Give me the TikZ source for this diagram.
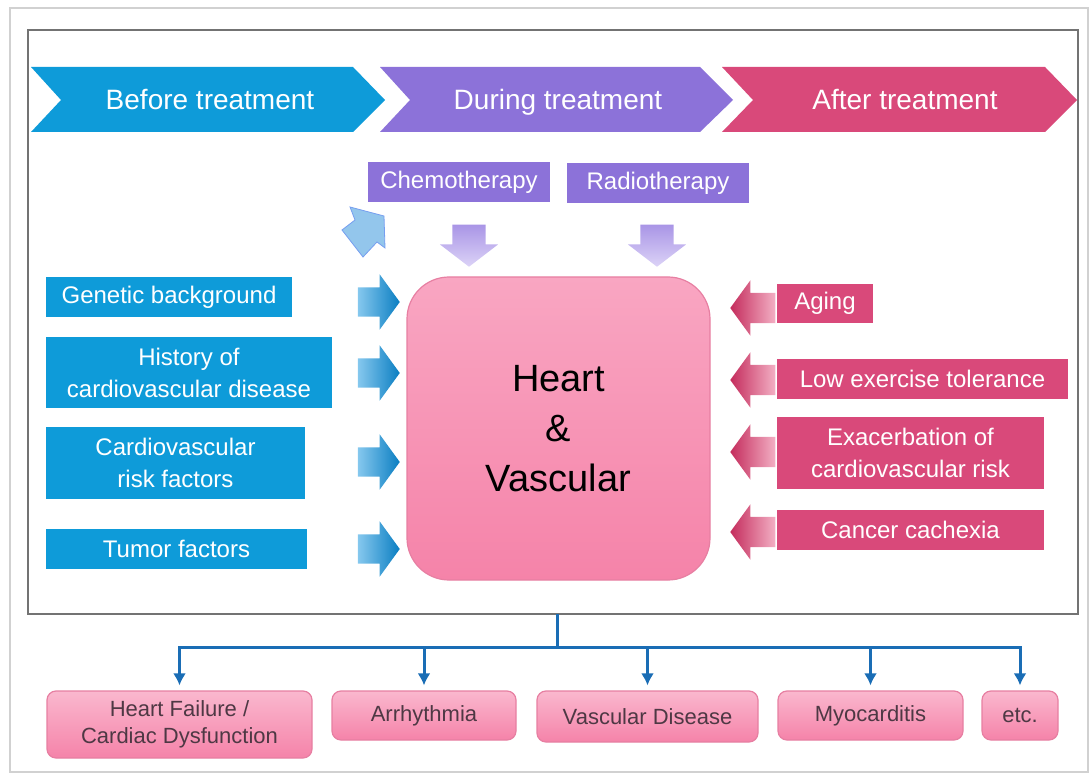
\documentclass[tikz,border=0pt]{standalone}
\usepackage{fontspec}
\setmainfont{Liberation Sans}
\usetikzlibrary{shapes.arrows,arrows.meta}

\definecolor{cblue}{HTML}{0E9BD9}
\definecolor{cpurple}{HTML}{8C72D9}
\definecolor{cpink}{HTML}{D9497A}
\definecolor{hvtop}{HTML}{F9A6C2}
\definecolor{hvbot}{HTML}{F583A9}
\definecolor{hvline}{HTML}{E77FA2}
\definecolor{lilac}{HTML}{A995E6}
\definecolor{lilaclight}{HTML}{DCD3F7}
\definecolor{arrowblue}{HTML}{0A7EC2}
\definecolor{arrowbluelight}{HTML}{86C8EE}
\definecolor{arrowpink}{HTML}{C42C5C}
\definecolor{arrowpinklight}{HTML}{F3AFC4}
\definecolor{bentblue}{HTML}{93C6EC}
\definecolor{linkblue}{HTML}{1A6DB5}
\definecolor{outtext}{HTML}{4E3844}

\newcommand{\fsz}[2]{\fontsize{#1}{#2}\selectfont}

\begin{document}
\begin{tikzpicture}[x=1pt, y=-1pt,
  phase/.style={text=white, font=\fsz{28}{32}, text height=23pt, text depth=3pt},
  factor/.style={inner sep=0, text=white, align=center, font=\fsz{24}{32}},
  leftbox/.style={factor, fill=cblue},
  rightbox/.style={factor, fill=cpink},
  therapy/.style={factor, fill=cpurple},
  outcome/.style={draw=hvline, line width=1.2pt, rounded corners=9pt, top color=hvtop!80, bottom color=hvbot,
    inner sep=0, text=outtext, align=center, font=\fsz{22}{27}},
  inarrow/.style={single arrow, anchor=tip, inner xsep=0, inner ysep=14.5pt, minimum height=42pt,
    single arrow head extend=13pt, single arrow tip angle=108, left color=arrowbluelight, right color=arrowblue},
  outarrow/.style={single arrow, anchor=tip, rotate=180, inner xsep=0, inner ysep=15pt, minimum height=45pt,
    single arrow head extend=12.5pt, single arrow tip angle=108, left color=arrowpink, right color=arrowpinklight},
  downarrow/.style={single arrow, anchor=tip, rotate=-90, inner xsep=0, inner ysep=16.5pt, minimum height=42pt,
    single arrow head extend=12.5pt, single arrow tip angle=105, top color=lilac, bottom color=lilaclight},
  link/.style={line width=3pt, linkblue}]
  \useasboundingbox (0,0) rectangle (1092,775);
  % frames
  \draw[black!18, line width=2pt] (10,8) rectangle (1088,772);
  \draw[black!55, line width=1.2pt] (28,30) rectangle (1078,614);
  % phase chevrons
  \fill[cblue] (31,67) -- (353,67) -- (385,100) -- (353,132) -- (31,132) -- (61,100) -- cycle;
  \fill[cpurple] (380,67) -- (700,67) -- (733,100) -- (700,132) -- (380,132) -- (410,100) -- cycle;
  \fill[cpink] (722,67) -- (1045,67) -- (1077,100) -- (1045,132) -- (722,132) -- (753,100) -- cycle;
  \node[phase] (before) at (210,100) {Before treatment};
  \node[phase] (during) at (558,100) {During treatment};
  \node[phase] (after) at (905,100) {After treatment};
  % treatments
  \node[therapy, minimum width=182pt, minimum height=40pt] (chemo) at (459,182) {Chemotherapy};
  \node[therapy, minimum width=182pt, minimum height=40pt] (radio) at (658,183) {Radiotherapy};
  \node[downarrow] (chemoarr) at (469,267) {};
  \node[downarrow] (radioarr) at (657,267) {};
  \filldraw[fill=bentblue, draw=bentblue!80!blue, line width=0.8pt]
    (350,207) -- (384,216) -- (385,248) -- (377,242) -- (363,257) -- (342,230) -- (355,220) -- cycle;
  % heart & vascular
  \node[draw=hvline, line width=1.2pt, rounded corners=42pt, top color=hvtop, bottom color=hvbot,
    minimum width=303pt, minimum height=303pt, align=center, font=\fsz{38}{50}] (hv) at (558.5,428.5)
    {Heart\\\&\\Vascular};
  % before treatment factors
  \node[leftbox, minimum width=246pt, minimum height=40pt] (genetic) at (169,297) {Genetic background};
  \node[leftbox, minimum width=286pt, minimum height=71pt] (history) at (189,372.5) {History of\\cardiovascular disease};
  \node[leftbox, minimum width=259pt, minimum height=72pt] (risk) at (175.5,463) {Cardiovascular\\risk factors};
  \node[leftbox, minimum width=261pt, minimum height=40pt] (tumor) at (176.5,549) {Tumor factors};
  \node[inarrow] (genarr) at (400,302) {};
  \node[inarrow] (hisarr) at (400,373) {};
  \node[inarrow] (riskarr) at (400,462) {};
  \node[inarrow] (tumarr) at (400,549) {};
  % after treatment factors
  \node[rightbox, minimum width=96pt, minimum height=39pt] (aging) at (825,303.5) {Aging};
  \node[rightbox, minimum width=291pt, minimum height=40pt] (lowex) at (922.5,379) {Low exercise tolerance};
  \node[rightbox, minimum width=267pt, minimum height=72pt] (exac) at (910.5,453) {Exacerbation of\\cardiovascular risk};
  \node[rightbox, minimum width=267pt, minimum height=40pt] (cachexia) at (910.5,530) {Cancer cachexia};
  \node[outarrow] (agearr) at (730,308) {};
  \node[outarrow] (lowarr) at (730,380) {};
  \node[outarrow] (exacarr) at (730,452) {};
  \node[outarrow] (cacharr) at (730,532) {};
  % outcomes
  \node[outcome, minimum width=265pt, minimum height=67pt] (hf) at (179.5,724.5) {Heart Failure /\\Cardiac Dysfunction};
  \node[outcome, minimum width=184pt, minimum height=49pt] (arrhythmia) at (424,715.5) {Arrhythmia};
  \node[outcome, minimum width=221pt, minimum height=51pt] (vascular) at (647.5,716.5) {Vascular Disease};
  \node[outcome, minimum width=185pt, minimum height=49pt] (myocarditis) at (870.5,715.5) {Myocarditis};
  \node[outcome, minimum width=76pt, minimum height=49pt] (etcbox) at (1020,715.5) {etc.};
  \coordinate (root) at (557,614);
  \coordinate (fork) at (557,647);
  \draw[link] (root) -- (fork);
  \foreach \o in {hf,arrhythmia,vascular,myocarditis,etcbox}
    \draw[link, -{Latex[length=12pt,width=13pt]}, shorten >=5pt] (fork) -| (\o.north);
\end{tikzpicture}
\end{document}
